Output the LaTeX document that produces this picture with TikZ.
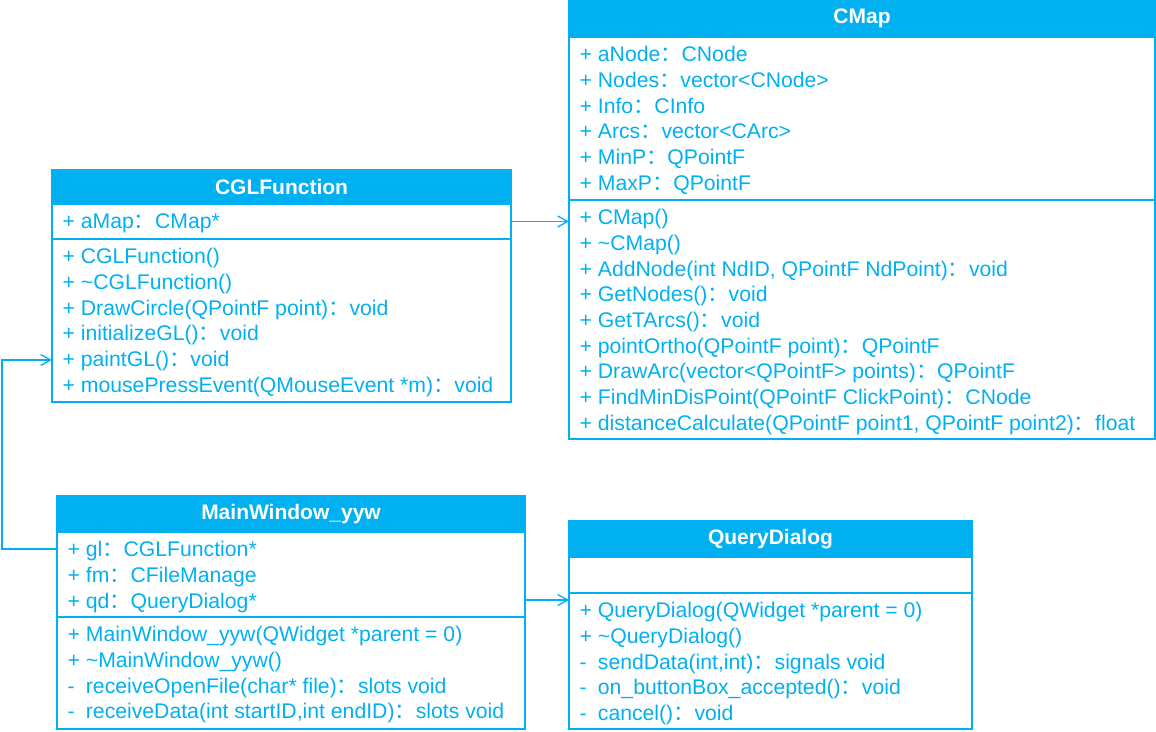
\documentclass[tikz,border=0pt]{standalone}
\usepackage{fontspec}
\setmainfont{Liberation Sans}
\newfontfamily\cjk{Noto Sans CJK SC}
\usetikzlibrary{arrows.meta}

\definecolor{umlblue}{RGB}{0,176,240}
\newcommand{\cln}{{\cjk ：}}
\newcommand{\pv}{\makebox[0.584em][l]{-}}
\newcommand{\tld}{\textasciitilde}
\newcommand{\topln}{\rule{0pt}{20pt}}

\tikzset{
  classhead/.style={draw=umlblue, fill=umlblue, text=white, font=\fontsize{21}{25}\selectfont\bfseries, anchor=north west, outer sep=0pt, inner sep=0pt},
  classpart/.style={draw=umlblue, anchor=north west, outer sep=0pt, inner sep=0pt},
  members/.style={anchor=north west, text=umlblue, align=left, inner sep=0pt, font=\fontsize{21.2}{25.7}\selectfont},
  assoc/.style={draw=umlblue, -{Straight Barb[length=10pt,width=11pt]}}
}

\begin{document}
\begin{tikzpicture}[x=1pt, y=-1pt, line width=1.3pt]
\useasboundingbox (0,0) rectangle (1156,731);

%CMap class
    \node[classhead, minimum width=586, minimum height=37] (cmaphead) at (569,0) {CMap};
    \node[classpart, minimum width=586, minimum height=163] (cmapattr) at (cmaphead.south west) {};
    \node[classpart, minimum width=586, minimum height=239] (cmapmeth) at (cmapattr.south west) {};
    \node[members] (cmapattrtxt) at ([xshift=10pt,yshift=-4pt]cmapattr.north west)
        {\topln+ aNode\cln CNode\\ + Nodes\cln vector<CNode>\\ + Info\cln CInfo\\ + Arcs\cln vector<CArc>\\ + MinP\cln QPointF\\ + MaxP\cln QPointF};
    \node[members] (cmapmethtxt) at ([xshift=10pt,yshift=-4pt]cmapmeth.north west)
        {\topln+ CMap()\\ + \tld CMap()\\ + AddNode(int NdID, QPointF NdPoint)\cln void\\ + GetNodes()\cln void\\ + GetTArcs()\cln void\\
         + pointOrtho(QPointF point)\cln QPointF\\ + DrawArc(vector<QPointF> points)\cln QPointF\\
         + FindMinDisPoint(QPointF ClickPoint)\cln CNode\\ + distanceCalculate(QPointF point1, QPointF point2)\cln float};

%CGLFunction class
    \node[classhead, minimum width=459, minimum height=34] (cglhead) at (52,170) {CGLFunction};
    \node[classpart, minimum width=459, minimum height=35] (cglattr) at (cglhead.south west) {};
    \node[classpart, minimum width=459, minimum height=163] (cglmeth) at (cglattr.south west) {};
    \node[members] (cglattrtxt) at ([xshift=10pt,yshift=-4pt]cglattr.north west) {\topln+ aMap\cln CMap*};
    \node[members] (cglmethtxt) at ([xshift=10pt,yshift=-4pt]cglmeth.north west)
        {\topln+ CGLFunction()\\ + \tld CGLFunction()\\ + DrawCircle(QPointF point)\cln void\\ + initializeGL()\cln void\\
         + paintGL()\cln void\\ + mousePressEvent(QMouseEvent *m)\cln void};

%MainWindow_yyw class
    \node[classhead, minimum width=468, minimum height=36] (mwhead) at (57,496) {MainWindow\_yyw};
    \node[classpart, minimum width=468, minimum height=85] (mwattr) at (mwhead.south west) {};
    \node[classpart, minimum width=468, minimum height=112] (mwmeth) at (mwattr.south west) {};
    \node[members] (mwattrtxt) at ([xshift=10pt,yshift=-4pt]mwattr.north west)
        {\topln+ gl\cln CGLFunction*\\ + fm\cln CFileManage\\ + qd\cln QueryDialog*};
    \node[members] (mwmethtxt) at ([xshift=10pt,yshift=-4pt]mwmeth.north west)
        {\topln+ MainWindow\_yyw(QWidget *parent = 0)\\ + \tld MainWindow\_yyw()\\
         \pv{} receiveOpenFile(char* file)\cln slots void\\ \pv{} receiveData(int startID,int endID)\cln slots void};

%QueryDialog class
    \node[classhead, minimum width=403, minimum height=36] (qdhead) at (569,521) {QueryDialog};
    \node[classpart, minimum width=403, minimum height=36] (qdattr) at (qdhead.south west) {};
    \node[classpart, minimum width=403, minimum height=136] (qdmeth) at (qdattr.south west) {};
    \node[members] (qdmethtxt) at ([xshift=10pt,yshift=-4pt]qdmeth.north west)
        {\topln+ QueryDialog(QWidget *parent = 0)\\ + \tld QueryDialog()\\ \pv{} sendData(int,int)\cln signals void\\
         \pv{} on\_buttonBox\_accepted()\cln void\\ \pv{} cancel()\cln void};

%connectors
    \coordinate (glport) at ([yshift=-17pt]mwattr.north west);
    \coordinate (paintport) at ([yshift=42pt]cglmeth.south west);
    \coordinate (qdport) at ([yshift=17pt]mwattr.south east);
    \draw[assoc] (cglattr.east) -- (cglattr.east -| cmapmeth.west);
    \draw[assoc] (qdport) -- (qdport -| qdmeth.west);
    \draw[assoc] (glport) -- ++(-55,0) |- (paintport);

\end{tikzpicture}
\end{document}
